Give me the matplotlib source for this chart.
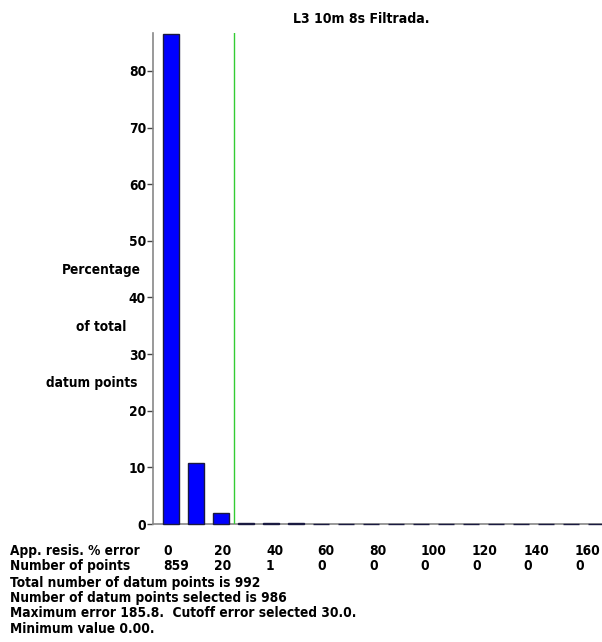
import matplotlib
matplotlib.use("Agg")
import matplotlib.pyplot as plt
import numpy as np

plt.rcParams['font.family'] = ['DejaVu Sans']
plt.rcParams['font.stretch'] = 'condensed'
plt.rcParams['font.weight'] = 'bold'

# histogram of apparent resistivity % error, 10 % bins
bin_centres = np.arange(5, 180, 10)
percent_of_total = [86.6, 10.8, 2.0, 0.1, 0.1, 0.1, 0, 0, 0,
                    0, 0, 0, 0, 0, 0, 0, 0, 0]
cutoff = 30.0

# summary table under the chart
error_labels = ["0", "20", "40", "60", "80", "100", "120", "140", "160"]
point_counts = ["859", "20", "1", "0", "0", "0", "0", "0", "0"]
summary_lines = [
    "Total number of datum points is 992",
    "Number of datum points selected is 986",
    "Maximum error 185.8.  Cutoff error selected 30.0.",
    "Minimum value 0.00.",
]
y_ticks = [0, 10, 20, 30, 40, 50, 60, 70, 80]

W, H = 602, 642
fs = 9.8
fig = plt.figure(figsize=(W / 100, H / 100), dpi=100)
ax = fig.add_axes([153 / W, 1 - 524 / H, 1 - 153 / W, (524 - 33) / H])

ax.bar(bin_centres, percent_of_total, width=6.4, color="#0000ff",
       edgecolor="#1a1a40", linewidth=1.0, zorder=3, clip_on=False)
ax.axvline(cutoff, color="#33cc33", linewidth=1.0, zorder=4)

ax.set_xlim(-2.2, 177.4)
ax.set_ylim(0, 86.7)
ax.set_yticks(y_ticks)
ax.set_yticklabels([str(t) for t in y_ticks], fontsize=fs, fontweight='bold')
ax.set_xticks([])
ax.tick_params(axis='y', length=4, width=1, color="#444444", pad=1)
for side in ["top", "right"]:
    ax.spines[side].set_visible(False)
for side in ["left", "bottom"]:
    ax.spines[side].set_color("#888888")
    ax.spines[side].set_linewidth(1.2)

# title and y-axis caption
fig.text(361 / W, 1 - 19 / H, "L3 10m 8s Filtrada.", ha="center", va="center",
         fontsize=fs + 0.3, fontweight='bold')
for txt, x, y in [("Percentage", 101, 270), ("of total", 101, 327),
                  ("datum points", 92, 383)]:
    fig.text(x / W, 1 - y / H, txt, ha="center", va="center",
             fontsize=fs, fontweight='bold')

# table rows
fig.text(10 / W, 1 - 551 / H, "App. resis. % error", ha="left", va="center",
         fontsize=fs, fontweight='bold')
fig.text(10 / W, 1 - 566 / H, "Number of points", ha="left", va="center",
         fontsize=fs, fontweight='bold')
for i, (lab, cnt) in enumerate(zip(error_labels, point_counts)):
    x = (163 + 51.5 * i) / W
    fig.text(x, 1 - 551 / H, lab, ha="left", va="center", fontsize=fs,
             fontweight='bold')
    fig.text(x, 1 - 566 / H, cnt, ha="left", va="center", fontsize=fs,
             fontweight='bold')
for i, line in enumerate(summary_lines):
    fig.text(10 / W, 1 - (583 + 15.2 * i) / H, line, ha="left", va="center",
             fontsize=fs, fontweight='bold')

fig.savefig("out.png", dpi=100)
